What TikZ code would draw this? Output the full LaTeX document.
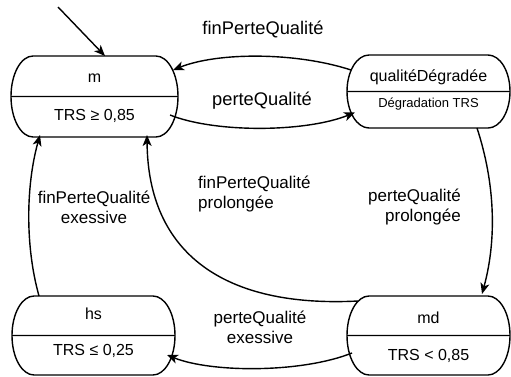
\documentclass[tikz,border=0pt]{standalone}
\usepackage{fontspec}
\setmainfont{Liberation Sans}
\usetikzlibrary{arrows.meta}

% outline of a state: flat top and bottom, half-ellipse ends, divider in the middle
\newcommand{\contour}[2]{%
  \draw[bord] ([xshift=22pt]#1.north west) -- ([xshift=-22pt]#1.north east)
    arc[start angle=90, end angle=-90, x radius=22pt, y radius=#2]
    -- ([xshift=22pt]#1.south west)
    arc[start angle=270, end angle=90, x radius=22pt, y radius=#2] -- cycle
    (#1.west) -- (#1.east);}

\begin{document}
\begin{tikzpicture}%
[x=1pt, y=1pt,
bord/.style={line width=1.4pt},%
fleche/.style={bord, -{Stealth[length=11pt, width=9pt, inset=3pt]}},%
etat/.style 2 args={minimum width=#1, minimum height=#2, inner sep=0pt, outer sep=0pt},%
titre/.style={font=\fontsize{16}{19}\selectfont, inner sep=0pt},%
petit/.style={font=\fontsize{13}{16}\selectfont, inner sep=0pt},%
lbl/.style={font=\fontsize{17}{20}\selectfont, inner sep=0pt},%
grand/.style={font=\fontsize{18.3}{22}\selectfont, inner sep=0pt}]
\useasboundingbox (0,0) rectangle (511,376);

% states
\node[etat={167pt}{81pt}] (m) at (94.5,279.5) {};
\node[etat={163pt}{73pt}] (qd) at (428.5,284.5) {};
\node[etat={163pt}{79pt}] (hs) at (93.5,40.5) {};
\node[etat={163pt}{79pt}] (md) at (428.5,40.5) {};
\contour{m}{40.5pt}
\contour{qd}{36.5pt}
\contour{hs}{39.5pt}
\contour{md}{39.5pt}

\node[titre] (m-nom) at ([yshift=18.5pt]m.center) {m};
\node[titre] (m-cond) at ([yshift=-19.5pt]m.center) {TRS ≥ 0,85};
\node[titre] (qd-nom) at ([yshift=14.5pt]qd.center) {qualitéDégradée};
\node[petit] (qd-cond) at ([yshift=-12.5pt]qd.center) {Dégradation TRS};
\node[titre] (hs-nom) at ([yshift=22pt]hs.center) {hs};
\node[titre] (hs-cond) at ([yshift=-15.5pt]hs.center) {TRS ≤ 0,25};
\node[titre] (md-nom) at ([yshift=17.5pt]md.center) {md};
\node[titre] (md-cond) at ([yshift=-20.5pt]md.center) {TRS < 0,85};

% initial arrow
\coordinate (depart) at (58,369);
\draw[fleche] (depart) -- ([xshift=10.5pt]m.north);

% transitions
\draw[fleche] ([shift={(4,21.5)}]qd.west) .. controls +(-55,18) and +(45,18) .. ([shift={(-5,26.5)}]m.east);
\draw[fleche] ([shift={(-8,-18.5)}]m.east) .. controls +(45,-18) and +(-50,-20) .. ([shift={(8,-21)}]qd.west);
\draw[fleche] ([xshift=48.5pt]qd.south) .. controls +(18,-55) and +(15,55) .. ([shift={(53.5,2)}]md.north);
\draw[fleche] ([shift={(11,-5)}]md.north west) .. controls +(-133,-7) and +(1,-119) .. ([shift={(52.5,2)}]m.south);
\draw[fleche] ([shift={(5,-17.5)}]md.west) .. controls +(-50,-20) and +(45,-18) .. ([shift={(-8,-19.5)}]hs.east);
\draw[fleche] ([xshift=-54.5pt]hs.north) .. controls +(-14,50) and +(-14,-50) .. ([shift={(-54.5,2)}]m.south);

% labels
\node[grand] (l-fin) at (263,347) {finPerteQualité};
\node[grand] (l-perte) at (262,275) {perteQualité};
\node[lbl, align=center] (l-finex) at (94,169) {finPerteQualité\\exessive};
\node[lbl, align=left, anchor=west] (l-finprol) at (198,182) {finPerteQualité\\prolongée};
\node[lbl, align=right, anchor=east] (l-perteprol) at (461,169) {perteQualité\\prolongée};
\node[lbl, align=center] (l-perteex) at (260,49) {perteQualité\\exessive};
\end{tikzpicture}
\end{document}
